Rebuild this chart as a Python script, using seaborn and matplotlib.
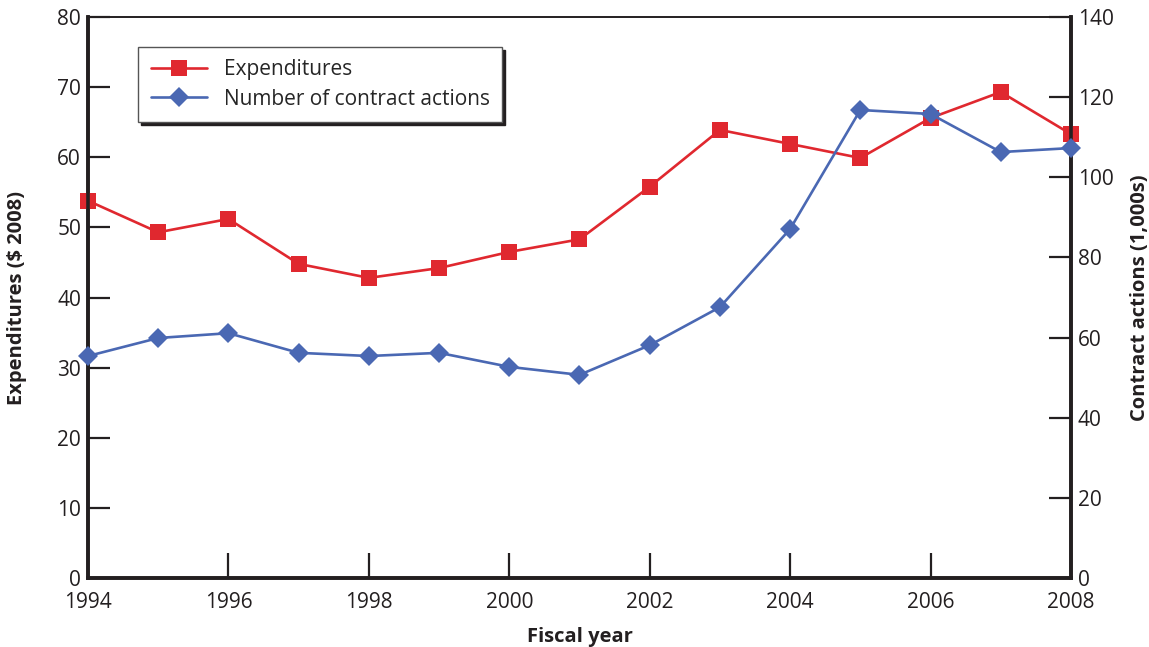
import seaborn as sns
import matplotlib.pyplot as plt
from matplotlib.lines import Line2D

years = [1994, 1995, 1996, 1997, 1998, 1999, 2000, 2001, 2002, 2003, 2004, 2005, 2006, 2007, 2008]
expenditures = [53.8, 49.3, 51.2, 44.8, 42.8, 44.2, 46.5, 48.3, 55.8, 63.9, 61.9, 59.9, 65.6, 69.3, 63.3]
contract_actions = [55.4, 59.9, 61.1, 56.2, 55.4, 56.2, 52.7, 50.7, 58.1, 67.6, 87.1, 116.8, 115.8, 106.3, 107.3]

x_ticks = [1994, 1996, 1998, 2000, 2002, 2004, 2006, 2008]
left_ticks = [0, 10, 20, 30, 40, 50, 60, 70, 80]
right_ticks = [0, 20, 40, 60, 80, 100, 120, 140]

red = "#e0282f"
blue = "#4a68b3"
ink = "#231f20"

sns.set_style("white")
plt.rcParams["font.family"] = ["Open Sans", "DejaVu Sans"]

fig = plt.figure(figsize=(11.49, 6.47), dpi=100)
ax = fig.add_axes([0.0766, 0.1066, 0.8555, 0.8671])
ax2 = ax.twinx()

sns.lineplot(x=years, y=expenditures, ax=ax, color=red, marker="s", markersize=11,
             markeredgewidth=0, linewidth=1.9, clip_on=False, zorder=3)
sns.lineplot(x=years, y=contract_actions, ax=ax2, color=blue, marker="D", markersize=10,
             markeredgewidth=0, linewidth=1.9, clip_on=False, zorder=3)

ax.set_xlim(1994, 2008)
ax.set_ylim(0, 80)
ax2.set_ylim(0, 140)
ax.set_xticks(x_ticks)
ax.set_yticks(left_ticks)
ax2.set_yticks(right_ticks)

ax.tick_params(axis="y", left=True, direction="in", length=16, width=1.6, color=ink,
               labelsize=15, pad=5, labelcolor=ink)
ax.tick_params(axis="x", bottom=True, direction="in", length=18, width=1.6, color=ink,
               labelsize=15, pad=10, labelcolor=ink)
ax2.tick_params(axis="y", right=True, direction="in", length=16, width=1.6, color=ink,
                labelsize=15, pad=5, labelcolor=ink)

for a in (ax, ax2):
    for side in ("left", "bottom", "right"):
        a.spines[side].set_linewidth(2.6)
        a.spines[side].set_color(ink)
    a.spines["top"].set_linewidth(1.2)
    a.spines["top"].set_color(ink)

ax.set_xlabel("Fiscal year", fontsize=14.5, fontweight="bold", color=ink, labelpad=10)
ax.set_ylabel("Expenditures ($ 2008)", fontsize=14.5, fontweight="bold", color=ink, labelpad=22)
ax2.set_ylabel("Contract actions (1,000s)", fontsize=14.5, fontweight="bold", color=ink, labelpad=12)

handles = [
    Line2D([], [], color=red, marker="s", markersize=11, markeredgewidth=0, linewidth=1.9),
    Line2D([], [], color=blue, marker="D", markersize=10, markeredgewidth=0, linewidth=1.9),
]
leg = ax2.legend(handles, ["Expenditures", "Number of contract actions"],
                 loc="upper left", bbox_to_anchor=(0.051, 0.947), fontsize=15,
                 frameon=True, fancybox=False, shadow={"color": ink, "alpha": 1},
                 edgecolor="#555555", framealpha=1, borderpad=0.6, handlelength=2.7,
                 labelspacing=0.4, handletextpad=0.8, borderaxespad=0)
leg.get_frame().set_linewidth(1.0)

plt.savefig("out.png", dpi=100)
